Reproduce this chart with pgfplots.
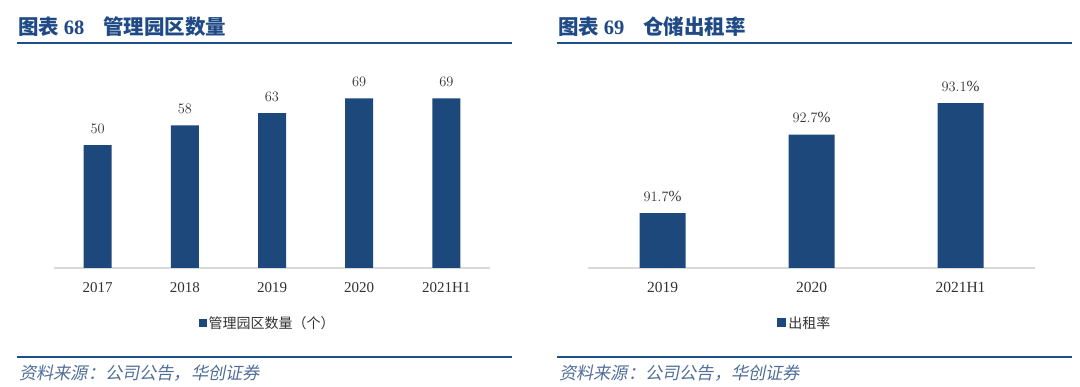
\documentclass[border=0pt]{standalone}
\usepackage{pgfplots}
\pgfplotsset{compat=1.18}
\usepackage{fontspec}
\setmainfont{Liberation Serif}
\newfontfamily\cjk{Noto Sans CJK SC}
\newfontfamily\cjkit[FakeSlant=0.2]{Noto Sans CJK SC}
\definecolor{barblue}{RGB}{28,72,124}
\definecolor{titleblue}{RGB}{31,74,134}
\definecolor{lineblue}{RGB}{31,78,143}
\definecolor{srcblue}{RGB}{80,110,152}
\definecolor{txt}{RGB}{50,50,50}
\begin{document}
\begin{tikzpicture}[x=1pt,y=1pt]
\useasboundingbox (0pt,0pt) rectangle (1080pt,387pt);
% titles
\node[anchor=west, text=titleblue, inner sep=0] at (18pt,360pt) {\fontsize{20.5}{20.5}\selectfont\cjk\bfseries 图表 {\rmfamily\bfseries 68}\hspace{19pt}管理园区数量};
\node[anchor=west, text=titleblue, inner sep=0] at (558pt,360pt) {\fontsize{20.5}{20.5}\selectfont\cjk\bfseries 图表 {\rmfamily\bfseries 69}\hspace{19pt}仓储出租率};
\draw[lineblue, line width=2.5pt] (17pt,344pt) -- (512pt,344pt);
\draw[lineblue, line width=2.5pt] (557pt,344pt) -- (1072pt,344pt);
\draw[lineblue, line width=2pt] (17pt,30pt) -- (512pt,30pt);
\draw[lineblue, line width=2pt] (557pt,30pt) -- (1072pt,30pt);
\node[anchor=west, text=srcblue, inner sep=0] at (19pt,14pt) {\fontsize{17.2}{17.2}\selectfont\cjkit 资料来源：公司公告，华创证券};
\node[anchor=west, text=srcblue, inner sep=0] at (559pt,14pt) {\fontsize{17.2}{17.2}\selectfont\cjkit 资料来源：公司公告，华创证券};

\begin{axis}[
  at={(54pt,119pt)}, anchor=south west,
  scale only axis, width=436pt, height=208pt,
  ymin=0, ymax=84.6, xmin=-0.5, xmax=4.5,
  axis y line=none, axis x line=bottom,
  x axis line style={-, draw=black!15, line width=1.2pt},
  xtick=data, xticklabels={2017,2018,2019,2020,2021H1},
  major tick length=0pt,
  xticklabel style={font=\fontsize{15}{15}\selectfont, text=txt, yshift=-11pt},
  ybar, bar width=28pt,
  nodes near coords,
  nodes near coords style={font=\fontsize{15}{15}\selectfont, text=txt, yshift=8pt},
  legend style={at={(0.49,-0.264)}, anchor=center, draw=none, fill=none,
    font=\fontsize{14}{14}\selectfont\cjk, text=txt},
  legend image code/.code={\fill[barblue] (0pt,-4pt) rectangle (8pt,4pt);},
]
\addplot[fill=barblue, draw=none] coordinates {(0,50) (1,58) (2,63) (3,69) (4,69)};
\addlegendentry{管理园区数量（个）}
\end{axis}

\begin{axis}[
  at={(588pt,119pt)}, anchor=south west,
  scale only axis, width=447pt, height=208pt,
  ymin=91.0, ymax=93.65, xmin=-0.5, xmax=2.5,
  axis y line=none, axis x line=bottom,
  x axis line style={-, draw=black!15, line width=1.2pt},
  xtick=data, xticklabels={2019,2020,2021H1},
  major tick length=0pt,
  xticklabel style={font=\fontsize{15.5}{15.5}\selectfont, text=txt, yshift=-11pt},
  ybar, bar width=46pt,
  nodes near coords={\pgfmathprintnumber[fixed,precision=1,fixed zerofill]{\pgfplotspointmeta}\%},
  nodes near coords style={font=\fontsize{15.5}{15.5}\selectfont, text=txt, yshift=8pt},
  legend style={at={(0.485,-0.264)}, anchor=center, draw=none, fill=none,
    font=\fontsize{14}{14}\selectfont\cjk, text=txt},
  legend image code/.code={\fill[barblue] (0pt,-4.5pt) rectangle (9pt,4.5pt);},
]
\addplot[fill=barblue, draw=none] coordinates {(0,91.7) (1,92.7) (2,93.1)};
\addlegendentry{出租率}
\end{axis}
\end{tikzpicture}
\end{document}
